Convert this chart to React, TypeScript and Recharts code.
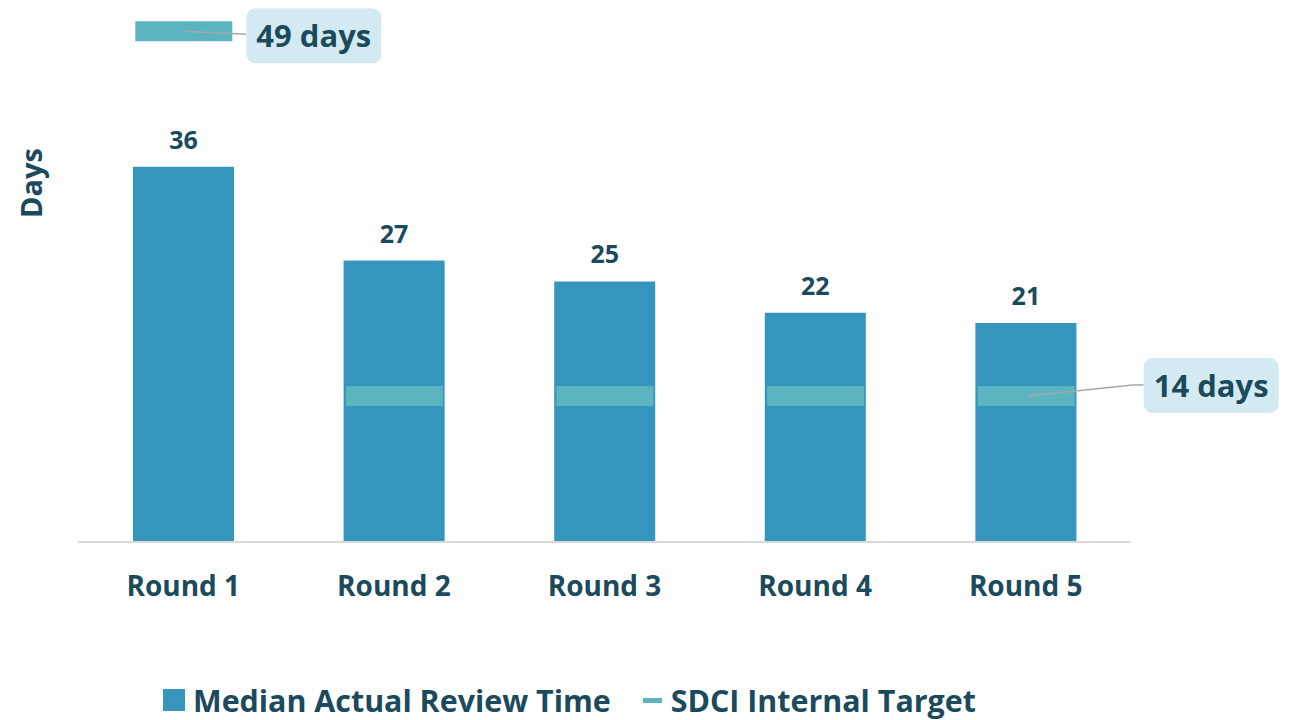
import React from 'react';
import { ComposedChart, Bar, Scatter, XAxis, YAxis, Legend, LabelList } from 'recharts';

const rounds = ['Round 1', 'Round 2', 'Round 3', 'Round 4', 'Round 5'];
const medianDays = [36, 27, 25, 22, 21];
const targetDays = [49, 14, 14, 14, 14];
const calloutRounds = ['Round 1', 'Round 5'];

const BAR_COLOR = '#3595BC';
const TARGET_COLOR = '#5AB5C0';
const TEXT_COLOR = '#1B4A5D';
const FONT = '"Open Sans", "Noto Sans", sans-serif';

const data = rounds.map((round, i) => ({
  round,
  median: medianDays[i],
  target: targetDays[i],
}));

function TargetShape(props: any) {
  const { cx, cy, payload } = props;
  const marker = <rect x={cx - 48} y={cy - 10} width={97} height={20} fill={TARGET_COLOR} />;
  if (!calloutRounds.includes(payload.round)) return <g>{marker}</g>;

  const first = payload.round === rounds[0];
  // callout box and leader line
  const boxX = first ? cx + 63 : cx + 118;
  const boxY = first ? cy - 23 : cy - 38;
  const path = first
    ? `M${cx},${cy} L${boxX},${cy + 3}`
    : `M${cx + 2},${cy} L${cx + 107},${cy - 11} L${boxX},${cy - 11}`;
  return (
    <g>
      {marker}
      <path d={path} stroke="#A6A6A6" strokeWidth={1.5} fill="none" />
      <rect x={boxX} y={boxY} width={135} height={55} rx={9} fill="#D4EAF3" />
      <text
        x={boxX + 67.5}
        y={boxY + 39}
        textAnchor="middle"
        fontFamily={FONT}
        fontWeight={700}
        fontSize={31}
        fill={TEXT_COLOR}
      >
        {`${payload.target} days`}
      </text>
    </g>
  );
}

function RoundTick(props: any) {
  const { x, y, payload } = props;
  return (
    <text x={x} y={y + 54} textAnchor="middle" fontFamily={FONT} fontWeight={700} fontSize={28} fill={TEXT_COLOR}>
      {payload.value}
    </text>
  );
}

function LegendContent() {
  const itemText: React.CSSProperties = {
    fontFamily: FONT,
    fontWeight: 700,
    fontSize: 30.4,
    color: TEXT_COLOR,
    whiteSpace: 'nowrap',
  };
  return (
    <div style={{ display: 'flex', alignItems: 'center', height: 40, paddingLeft: 163 }}>
      <span style={{ width: 22, height: 22, background: BAR_COLOR, display: 'inline-block', marginRight: 8 }} />
      <span style={itemText}>Median Actual Review Time</span>
      <span style={{ width: 19, height: 5, background: TARGET_COLOR, display: 'inline-block', marginLeft: 32, marginRight: 9 }} />
      <span style={itemText}>SDCI Internal Target</span>
    </div>
  );
}

export default function App() {
  return (
    <div style={{ position: 'absolute', left: 0, top: 0, width: 1296, height: 720, background: '#fff' }}>
      <ComposedChart width={1296} height={720} data={data} margin={{ top: 0, right: 165, bottom: 0, left: 0 }}>
        <XAxis
          dataKey="round"
          height={138}
          tickLine={false}
          tickSize={0}
          tickMargin={0}
          axisLine={{ stroke: '#D9D9D9', strokeWidth: 2 }}
          tick={<RoundTick />}
        />
        <YAxis
          domain={[0, 52]}
          width={78}
          tick={false}
          axisLine={false}
          tickLine={false}
          label={{
            content: () => (
              <text
                x={42}
                y={183}
                transform="rotate(-90 42 183)"
                textAnchor="middle"
                fontFamily={FONT}
                fontWeight={700}
                fontSize={29}
                fill={TEXT_COLOR}
              >
                Days
              </text>
            ),
          }}
        />
        <Legend verticalAlign="bottom" content={<LegendContent />} />
        <Bar dataKey="median" fill={BAR_COLOR} barSize={101} isAnimationActive={false}>
          <LabelList
            dataKey="median"
            position="top"
            offset={18}
            fill={TEXT_COLOR}
            fontFamily={FONT}
            fontWeight={700}
            fontSize={25}
          />
        </Bar>
        <Scatter dataKey="target" shape={<TargetShape />} isAnimationActive={false} />
      </ComposedChart>
    </div>
  );
}
